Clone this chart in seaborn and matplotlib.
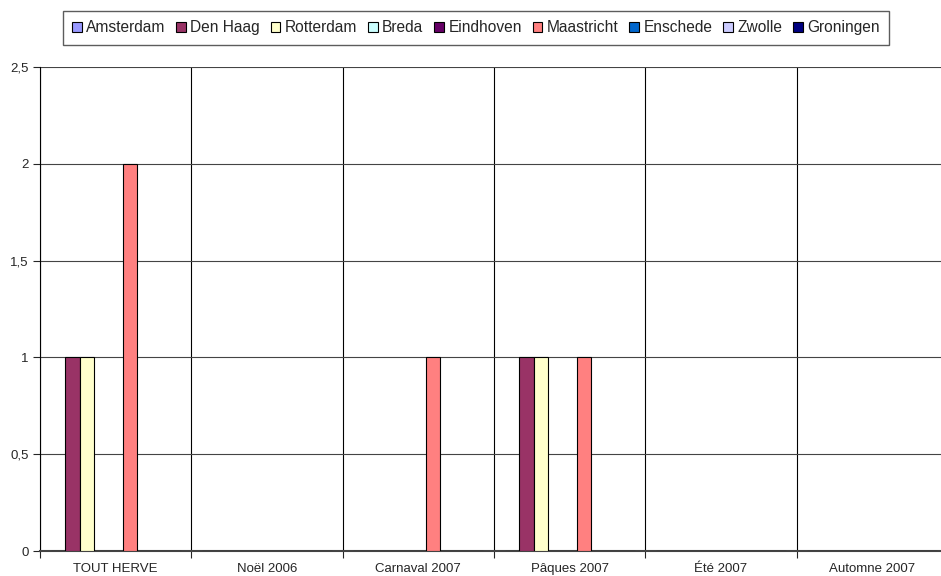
import numpy as np
import pandas as pd
import seaborn as sns
import matplotlib.pyplot as plt
from matplotlib.ticker import FixedLocator, FuncFormatter

# Données
periodes = ['TOUT HERVE', 'Noël 2006', 'Carnaval 2007', 'Pâques 2007', 'Été 2007', 'Automne 2007']
villes = ['Amsterdam', 'Den Haag', 'Rotterdam', 'Breda', 'Eindhoven',
          'Maastricht', 'Enschede', 'Zwolle', 'Groningen']
amsterdam = [0, 0, 0, 0, 0, 0]
den_haag = [1, 0, 0, 1, 0, 0]
rotterdam = [1, 0, 0, 1, 0, 0]
breda = [0, 0, 0, 0, 0, 0]
eindhoven = [0, 0, 0, 0, 0, 0]
maastricht = [2, 0, 1, 1, 0, 0]
enschede = [0, 0, 0, 0, 0, 0]
zwolle = [0, 0, 0, 0, 0, 0]
groningen = [0, 0, 0, 0, 0, 0]
couleurs = ['#9999FF', '#993366', '#FFFFCC', '#CCFFFF', '#660066',
            '#FF8080', '#0066CC', '#CCCCFF', '#000080']

series = [amsterdam, den_haag, rotterdam, breda, eindhoven,
          maastricht, enschede, zwolle, groningen]
df = pd.DataFrame([
    {'periode': p, 'ville': v, 'valeur': s[i]}
    for v, s in zip(villes, series)
    for i, p in enumerate(periodes)
])

sns.set_style('white')
plt.rcParams['font.family'] = ['Liberation Sans', 'DejaVu Sans']

fig = plt.figure(figsize=(9.41, 5.76), dpi=100)
ax = fig.add_axes([40 / 941, 25 / 576, 908 / 941, 484 / 576])

sns.barplot(data=df, x='periode', y='valeur', hue='ville', order=periodes,
            hue_order=villes, palette=couleurs, width=0.86, gap=0,
            edgecolor='black', linewidth=0.8, saturation=1, ax=ax, zorder=3)

ax.set_ylim(0, 2.5)
ax.set_xlim(-0.5, len(periodes) - 0.5)
ax.set_yticks(np.arange(0, 2.51, 0.5))
ax.yaxis.set_major_formatter(FuncFormatter(lambda v, _: f'{v:g}'.replace('.', ',')))
ax.xaxis.set_minor_locator(FixedLocator(np.arange(-0.5, len(periodes), 1)))

ax.grid(axis='y', which='major', color='#444444', linewidth=0.8, zorder=0)
ax.grid(axis='x', which='minor', color='black', linewidth=0.8, zorder=0)
ax.grid(axis='x', which='major', visible=False)

ax.tick_params(axis='x', which='major', length=0, labelsize=9.5, pad=15)
ax.tick_params(axis='x', which='minor', length=5, width=0.8, direction='out', bottom=True)
ax.tick_params(axis='y', length=5, width=0.8, direction='out', left=True, labelsize=9.5, pad=3)
for lab in ax.get_xticklabels():
    lab.set_verticalalignment('baseline')

for s in ['top', 'right']:
    ax.spines[s].set_visible(False)
ax.spines['left'].set_color('black')
ax.spines['left'].set_linewidth(0.8)
ax.spines['bottom'].set_color('#444444')
ax.spines['bottom'].set_linewidth(1.5)
ax.set_xlabel('')
ax.set_ylabel('')

leg = ax.legend(loc='upper center', bbox_to_anchor=(476 / 941, 1 - 11 / 576),
                bbox_transform=fig.transFigure, ncol=9, frameon=True,
                fancybox=False, edgecolor='#333333', fontsize=11.2,
                handlelength=0.6, handleheight=0.6, handletextpad=0.3,
                columnspacing=0.7, borderpad=0.6, borderaxespad=0)
leg.get_frame().set_linewidth(1.0)

fig.savefig('out.png', dpi=100)
